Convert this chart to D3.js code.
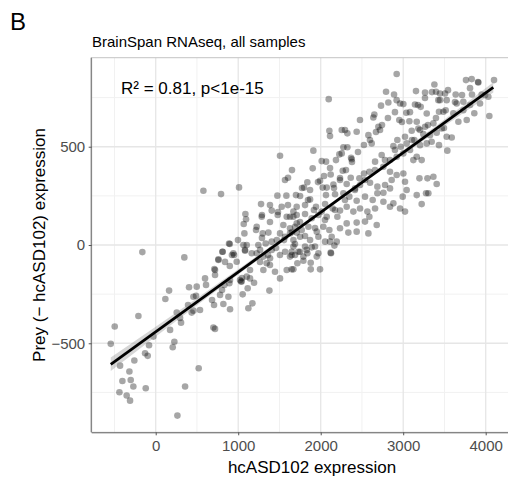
<!DOCTYPE html>
<html>
<head>
<meta charset="utf-8">
<script src="https://cdn.jsdelivr.net/npm/d3@7"></script>
<style>
body { margin: 0; background: #fff; }
svg { font-family: "Liberation Sans", Arial, sans-serif; display: block; }
</style>
</head>
<body>
<svg id="chart" width="508" height="484"></svg>
<script>
// samples: [hcASD102 expression, prey expression]
var points = [
  [1507,454],[1604,342],[578,276],[792,259],[1010,293],[1475,251],[1584,251],[1277,208],[1527,195],[1087,158],
  [1095,131],[1285,144],[1406,175],[1067,107],[1224,93],[1075,59],[1297,59],[1366,63],[1479,153],[1588,144],
  [1668,144],[1547,102],[1628,85],[1709,63],[1467,25],[1406,17],[1333,8],[1244,0],[1103,0],[889,7],
  [812,-34],[941,-42],[-162,-36],[347,-63],[760,-73],[1507,59],[1568,42],[1709,110],
  [2921,870],[2097,742],[2638,649],[2650,664],[2792,780],[2889,766],[2921,737],[2962,720],[2731,709],[2820,725],
  [3002,717],[3155,783],[3265,776],[3378,817],[3398,780],[3446,771],[3507,771],[3527,737],[3636,766],[3761,839],
  [3830,844],[3911,827],[4101,839],[3834,766],[3951,766],[4032,754],[3729,729],[3648,720],[3434,678],[3487,678],
  [3515,686],[3426,737],[3285,669],[3212,703],[3143,715],[3164,627],[3075,630],[3038,673],[2953,636],[3608,670],
  [3729,686],[3810,712],[3862,670],[3770,636],[3669,627],[4044,656],[3931,720],[3366,619],[3265,602],[3184,593],
  [3103,581],[3244,564],[3325,559],[3406,571],[3467,593],[3527,551],[3588,547],[3535,480],[3434,508],[3345,525],
  [3285,517],[3204,508],[3135,534],[3022,551],[2929,534],[2881,503],[2970,500],[3042,517],[3083,483],[3164,449],
  [3224,432],[3123,432],[3002,466],[2921,449],[2840,432],[2699,602],[2719,585],[2578,559],[2618,517],[2436,576],
  [2323,568],[2255,585],[2105,581],[2113,554],[2275,497],[2323,497],[2255,466],[2368,444],[2376,436],[2226,461],
  [1911,480],[2012,427],[2065,424],[1903,390],[2121,359],[2267,378],[2364,342],[2469,339],[2525,364],[2590,373],
  [2659,424],[2739,458],[2759,398],[2840,373],[2921,356],[3002,364],[3022,322],[2860,331],[2780,305],[2687,297],
  [2598,317],[2477,305],[2416,288],[2315,310],[2234,331],[2154,308],[2073,292],[1992,327],[1838,319],[1798,292],
  [1871,280],[2024,292],[2174,258],[2275,263],[2347,246],[2436,225],[2537,246],[2630,229],[2687,263],[2760,266],
  [2840,288],[2994,246],[3042,280],[3197,339],[3294,339],[3366,347],[3406,310],[3164,254],[3224,208],[3277,263],
  [3305,263],[2962,186],[3022,170],[2881,212],[2840,195],[2760,220],[2659,186],[2566,170],[2477,186],[2396,170],
  [2315,195],[2234,175],[2145,186],[2053,208],[2012,170],[1943,195],[1871,232],[1810,203],[1750,249],[1709,195],
  [1669,170],[1628,144],[1709,153],[1810,158],[1891,136],[1972,153],[2073,144],[2202,144],[2315,110],[2436,114],
  [2537,119],[2590,144],[2679,102],[2578,59],[2436,68],[2335,63],[2234,85],[2105,76],[2032,93],[1952,68],
  [1851,93],[1770,76],[1689,93],[1628,59],[1669,25],[1750,42],[1871,25],[1972,42],[2053,17],[2133,42],
  [2194,17],[2121,-39],[1931,-8],[1830,-25],[1729,-34],[1648,-51],[1790,-59],[1952,-59],
  [-545,-503],[-497,-415],[-432,-614],[-319,-644],[-404,-692],[-303,-687],[-271,-720],[-440,-749],
  [-352,-766],[-311,-792],[-121,-729],[-259,-588],[-129,-551],[-97,-564],[-81,-510],[-28,-466],[-210,-361],[117,-275],
  [162,-232],[255,-344],[307,-395],[226,-492],[206,-520],[356,-720],[263,-868],[521,-627],[404,-215],[497,-212],
  [457,-263],[436,-344],[457,-334],[598,-170],[699,-420],[719,-427],[707,-305],[719,-127],[711,-122],[760,-76],
  [808,-34],[898,5],[950,-51],[898,-107],[832,-203],[780,-254],[820,-300],[901,-327],[881,-263],[893,-195],
  [1022,-178],[1042,-186],[1103,-161],[1143,-170],[1192,-192],[1115,-220],[1054,-251],[1123,-322],[1172,-297],[1378,-232],
  [1446,-136],[1507,-170],[1588,-127],[1648,-124],[1305,-127],[1345,-93],[1305,-59],[1386,-68],[1224,-42],[1265,-25],
  [1568,-34],[1648,-34],[1717,-93],[1063,0],[1083,-29],[1164,-42],[1406,-25],[982,-85],[1034,-186],
  [1669,-8],[1750,-34],[1810,-8],[1891,-12],[1972,-42],[1790,-80],[1879,-90],[1669,-124],[1879,-124],[1992,-124],
  [2125,-42],[2166,-3],[2113,17],[1628,-59],[1689,-51],[1838,-42],
  // dense main cloud
  [1216,76],[1288,36],[1385,117],[1482,168],[1603,203],[1700,254],[1773,290],[1846,229],[1918,178],[1749,117],
  [1652,66],[1555,25],[1458,-15],[1361,-51],[1264,-86],[1143,-127],[1046,-168],[1967,320],[2040,351],[2113,392],
  [2185,432],[2064,254],[2161,290],[2234,341],[2306,381],[2379,422],[2452,473],[2524,509],[2597,534],[2670,575],
  [2743,610],[2815,646],[2900,676],[2985,626],[3082,676],[3179,712],[3264,748],[3349,778],[3446,737],[3543,788],
  [3628,727],[3713,763],[3810,798],[3907,829],[3992,763],[3106,534],[3203,585],[3300,610],[3397,646],[3494,595],
  [2900,483],[2779,432],[2658,381],[2537,331],[2415,280],[2294,229],[2173,178],[2052,127],[1931,86],[1810,46],
  [1688,5],[1506,-51],[1385,-102],[1082,-25],[997,25],[924,-51],[840,-86],[719,-153],[610,-203],[489,-259],
  [392,-305],[295,-371],[174,-432],[537,-331],[683,-280],[804,-229],[901,-178],[1385,203],[1288,153],[1567,331],
  [1652,381],[2294,585],[2476,636]
];

// linear fit and its confidence band
var fitX = [-545, 4092];
var fitY = [-607, 802];
var bandX  = [-545, 500, 1500, 2500, 3500, 4092];
var bandLo = [-641, -307, 5, 310, 606, 776];
var bandHi = [-573, -271, 25, 328, 639, 828];

var xTicks = [0, 1000, 2000, 3000, 4000];
var xMinor = [-500, 500, 1500, 2500, 3500];
var yTicks = [-500, 0, 500];
var yMinor = [-750, -250, 250, 750];

var svg = d3.select("#chart");
var pL = 91.7, pR = 513, pT = 57.7, pB = 432.3;

var x = d3.scaleLinear().domain([-776, 4331]).range([pL, pR]);
var y = d3.scaleLinear().domain([-953, 953]).range([pB, pT]);

// grid
var grid = svg.append("g");
grid.selectAll(".xminor").data(xMinor).enter().append("line")
    .attr("x1", d => x(d)).attr("x2", d => x(d)).attr("y1", pT).attr("y2", pB)
    .attr("stroke", "#f1f1f1").attr("stroke-width", 1);
grid.selectAll(".yminor").data(yMinor).enter().append("line")
    .attr("x1", pL).attr("x2", pR).attr("y1", d => y(d)).attr("y2", d => y(d))
    .attr("stroke", "#f1f1f1").attr("stroke-width", 1);
grid.selectAll(".xmajor").data(xTicks).enter().append("line")
    .attr("x1", d => x(d)).attr("x2", d => x(d)).attr("y1", pT).attr("y2", pB)
    .attr("stroke", "#e6e6e6").attr("stroke-width", 1.3);
grid.selectAll(".ymajor").data(yTicks).enter().append("line")
    .attr("x1", pL).attr("x2", pR).attr("y1", d => y(d)).attr("y2", d => y(d))
    .attr("stroke", "#e6e6e6").attr("stroke-width", 1.3);

// panel border (light), axes drawn on top later
svg.append("rect")
    .attr("x", pL).attr("y", pT).attr("width", pR - pL).attr("height", pB - pT)
    .attr("fill", "none").attr("stroke", "#c4c4c4").attr("stroke-width", 1);

// points
svg.append("g").selectAll("circle")
    .data(points).enter().append("circle")
    .attr("cx", d => x(d[0]))
    .attr("cy", d => y(d[1]))
    .attr("r", 3.3)
    .attr("fill", "#000")
    .attr("fill-opacity", 0.35);

// confidence band + fit line
var band = bandX.map((v, i) => ({x: v, lo: bandLo[i], hi: bandHi[i]}));
svg.append("path")
    .datum(band)
    .attr("fill", "#999")
    .attr("fill-opacity", 0.4)
    .attr("d", d3.area().curve(d3.curveMonotoneX).x(d => x(d.x)).y0(d => y(d.lo)).y1(d => y(d.hi)));

svg.append("line")
    .attr("x1", x(fitX[0])).attr("y1", y(fitY[0]))
    .attr("x2", x(fitX[1])).attr("y2", y(fitY[1]))
    .attr("stroke", "#000").attr("stroke-width", 2.8);

// axes
var fmt = d => d < 0 ? "\u2212" + Math.abs(d) : String(d);
var xAxis = svg.append("g")
    .attr("transform", "translate(0," + pB + ")")
    .call(d3.axisBottom(x).tickValues(xTicks).tickSize(3).tickSizeOuter(0).tickPadding(5.5).tickFormat(fmt));
xAxis.select(".domain").attr("d", "M" + pL + ",0.5H" + pR);

var yAxis = svg.append("g")
    .attr("transform", "translate(" + pL + ",0)")
    .call(d3.axisLeft(y).tickValues(yTicks).tickSize(3).tickSizeOuter(0).tickPadding(3.5).tickFormat(fmt));
yAxis.select(".domain").attr("d", "M-0.5," + pB + "V" + pT);

svg.selectAll(".tick line").attr("stroke", "#555");
svg.selectAll(".domain").attr("stroke", "#666");
svg.selectAll(".tick text")
    .attr("fill", "#4d4d4d")
    .style("font-size", "15px")
    .style("font-family", "'Liberation Sans', Arial, sans-serif");

// texts
svg.append("text").attr("x", 10).attr("y", 30)
    .style("font-size", "24px").text("B");

svg.append("text").attr("x", 92).attr("y", 47)
    .style("font-size", "15px").text("BrainSpan RNAseq, all samples");

svg.append("text").attr("x", 121).attr("y", 94)
    .style("font-size", "17px").text("R\u00b2 = 0.81, p<1e-15");

svg.append("text").attr("x", 312).attr("y", 473)
    .attr("text-anchor", "middle")
    .style("font-size", "17px").text("hcASD102 expression");

svg.append("text")
    .attr("transform", "translate(45,245) rotate(-90)")
    .attr("text-anchor", "middle")
    .style("font-size", "17px").text("Prey (\u2212 hcASD102) expression");
</script>
</body>
</html>
